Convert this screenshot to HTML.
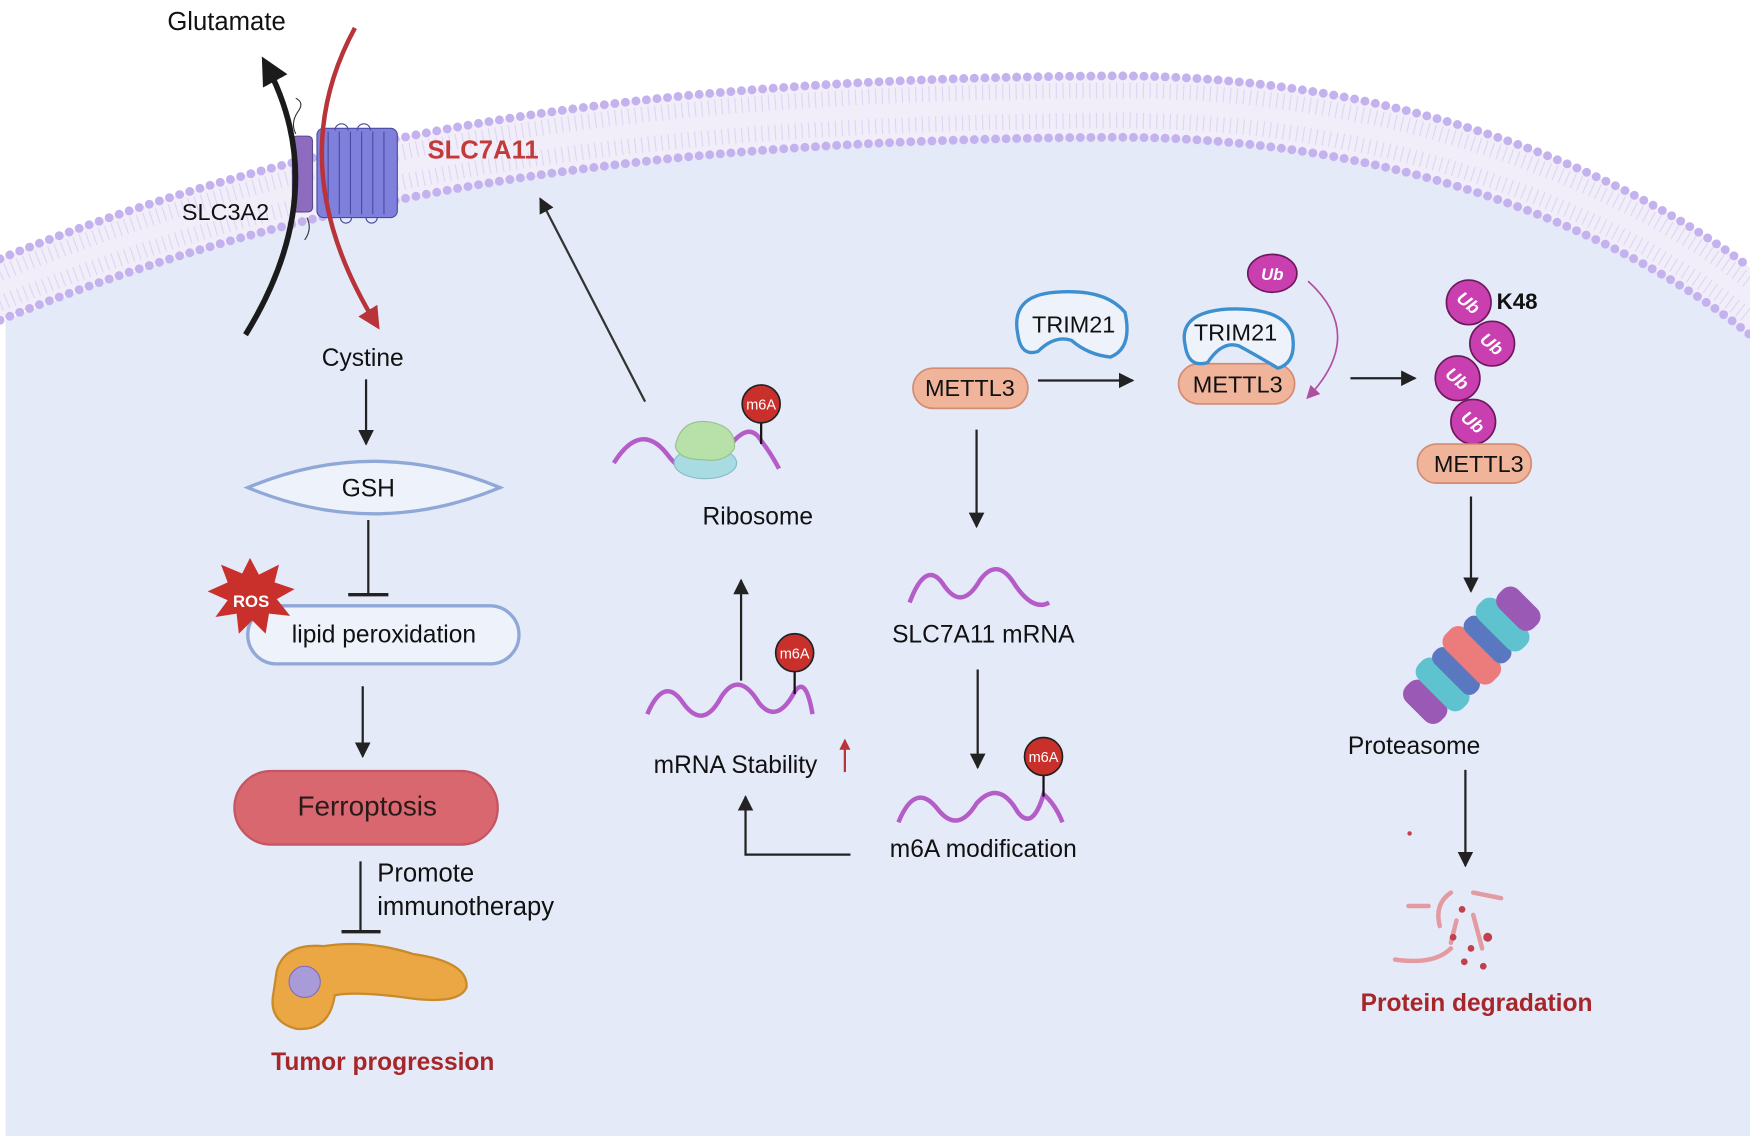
<!DOCTYPE html>
<html><head><meta charset="utf-8"><style>
html,body{margin:0;padding:0;background:#fff;}
svg{display:block;}
text{font-family:"Liberation Sans",sans-serif;}
</style></head><body>
<svg width="1750" height="1147" viewBox="0 0 1568 1028" preserveAspectRatio="none" xmlns="http://www.w3.org/2000/svg">
<defs>
<marker id="ah" viewBox="0 0 10 10" refX="9" refY="5" markerWidth="7" markerHeight="7" orient="auto"><path d="M0,0L10,5L0,10z" fill="#222"/></marker>
<marker id="ahb" viewBox="0 0 10 10" refX="8" refY="5" markerWidth="5" markerHeight="5" orient="auto"><path d="M0,0L10,5L0,10z" fill="#1b1b1b"/></marker>
<marker id="ahr" viewBox="0 0 10 10" refX="8" refY="5" markerWidth="5" markerHeight="5" orient="auto"><path d="M0,0L10,5L0,10z" fill="#b8333a"/></marker>
<marker id="ahm" viewBox="0 0 10 10" refX="8" refY="5" markerWidth="8" markerHeight="8" orient="auto"><path d="M0,0L10,5L0,10z" fill="#b04fa0"/></marker>
</defs>
<rect width="1568" height="1028" fill="#fff"/>
<path d="M5,287 C300,165 600,125 1000,123 C1250,123 1450,205 1568,300 L1568,1018 L5,1018 Z" fill="#e4eaf8"/>
<path d="M0,232 C300,110 600,70 1000,68 C1250,68 1450,150 1568,240 L1568,300 C1450,205 1250,123 1000,123 C600,125 300,165 0,287 Z" fill="#f1eefa"/>
<path d="M0,245 C300,123 600,83 1000,81 C1250,81 1450,163 1568,253" fill="none" stroke="#ddd6f2" stroke-width="14" stroke-dasharray="1 5"/>
<path d="M0,272 C300,150 600,110 1000,108 C1250,108 1450,190 1568,285" fill="none" stroke="#ddd6f2" stroke-width="14" stroke-dasharray="1 5"/>
<path d="M0,232 C300,110 600,70 1000,68 C1250,68 1450,150 1568,240" fill="none" stroke="#c4b2ee" stroke-width="8" stroke-linecap="round" stroke-dasharray="0 9.5"/>
<path d="M0,287 C300,165 600,125 1000,123 C1250,123 1450,205 1568,300" fill="none" stroke="#c4b2ee" stroke-width="8" stroke-linecap="round" stroke-dasharray="0 9.5"/>

<rect x="262" y="122" width="18" height="68" rx="4" fill="#8d6cbf" stroke="#5a4a8a" stroke-width="1"/>
<rect x="284" y="115" width="72" height="80" rx="6" fill="#7f7fdc" stroke="#4a4aa0" stroke-width="1"/>
<g stroke="#4a4aa0" stroke-width="1" fill="none">
<line x1="294" y1="118" x2="294" y2="192"/><line x1="304" y1="118" x2="304" y2="192"/><line x1="314" y1="118" x2="314" y2="192"/><line x1="324" y1="118" x2="324" y2="192"/><line x1="334" y1="118" x2="334" y2="192"/><line x1="344" y1="118" x2="344" y2="192"/>
<path d="M300,117 a6,6 0 0 1 12,0 M320,117 a6,6 0 0 1 12,0 M305,195 a5,5 0 0 0 10,0 M328,195 a5,5 0 0 0 10,0"/>
<path d="M265,120 q-5,-10 2,-20 q6,-8 -2,-12" stroke="#333"/>
<path d="M275,195 q5,10 -2,20" stroke="#333"/>
</g>
<path d="M220,300 Q300,170 237,55" fill="none" stroke="#1b1b1b" stroke-width="5" marker-end="url(#ahb)"/>
<path d="M318,25 Q250,150 338,292" fill="none" stroke="#b8333a" stroke-width="4" marker-end="url(#ahr)"/>
<text x="203" y="27" font-size="23" text-anchor="middle" fill="#111">Glutamate</text>
<text x="383" y="142" font-size="23" font-weight="bold" fill="#c33a3a">SLC7A11</text>
<text x="163" y="197" font-size="21" fill="#111">SLC3A2</text>

<text x="325" y="328" font-size="22" text-anchor="middle" fill="#111">Cystine</text>
<line x1="328" y1="340" x2="328" y2="398" stroke="#222" stroke-width="2" marker-end="url(#ah)"/>
<path d="M222,437 Q335,390 448,437 Q335,484 222,437 Z" fill="#eef3fb" stroke="#8fa8d8" stroke-width="3"/>
<text x="330" y="445" font-size="22" text-anchor="middle" fill="#111">GSH</text>
<line x1="330" y1="466" x2="330" y2="533" stroke="#222" stroke-width="2"/>
<line x1="312" y1="533" x2="348" y2="533" stroke="#222" stroke-width="3"/>
<rect x="222" y="543" width="243" height="52" rx="26" fill="#eef3fb" stroke="#8fa8d8" stroke-width="3"/>
<text x="344" y="576" font-size="22" text-anchor="middle" fill="#111">lipid peroxidation</text>
<polygon points="224,500 232,515 250,506 246,522 264,528 248,537 260,552 241,550 238,568 226,556 214,568 212,550 193,553 204,538 186,530 204,522 198,506 217,514" fill="#c9302c"/>
<text x="225" y="544" font-size="15" font-weight="bold" text-anchor="middle" fill="#fff">ROS</text>
<line x1="325" y1="615" x2="325" y2="678" stroke="#222" stroke-width="2" marker-end="url(#ah)"/>
<rect x="210" y="691" width="236" height="66" rx="33" fill="#d9676f" stroke="#c55560" stroke-width="2"/>
<text x="329" y="731" font-size="25" text-anchor="middle" fill="#2a1a1a">Ferroptosis</text>
<line x1="323" y1="772" x2="323" y2="835" stroke="#222" stroke-width="2"/>
<line x1="306" y1="835" x2="341" y2="835" stroke="#222" stroke-width="3"/>
<text x="338" y="790" font-size="23" fill="#111">Promote</text>
<text x="338" y="820" font-size="23" fill="#111">immunotherapy</text>
<path d="M248,870 Q255,845 290,848 Q330,842 370,855 Q420,862 418,885 Q412,900 370,895 Q320,888 300,892 Q295,925 265,922 Q240,915 245,890 Z" fill="#eaa743" stroke="#c88a2a" stroke-width="2"/>
<circle cx="273" cy="880" r="14" fill="#a99ad8" stroke="#7d6dbd"/>
<text x="343" y="959" font-size="22" font-weight="bold" text-anchor="middle" fill="#a7262a">Tumor progression</text>

<line x1="578" y1="360" x2="484" y2="178" stroke="#333" stroke-width="2" marker-end="url(#ah)"/>
<path d="M550,415 Q575,375 600,410 Q625,440 650,405 Q670,375 682,395 Q690,405 698,420" fill="none" stroke="#b45cc8" stroke-width="4"/>
<ellipse cx="632" cy="415" rx="28" ry="14" fill="#a9dbe3" stroke="#86bccb"/>
<path d="M605,400 Q610,375 635,378 Q660,382 658,402 Q650,415 630,412 Q608,412 605,400Z" fill="#b8e0a9" stroke="#95c388"/>
<line x1="682" y1="378" x2="682" y2="398" stroke="#111" stroke-width="2"/>
<circle cx="682" cy="362" r="17" fill="#c9302c" stroke="#222" stroke-width="1.5"/>
<text x="682" y="367" font-size="13" text-anchor="middle" fill="#fff">m6A</text>
<text x="679" y="470" font-size="22" text-anchor="middle" fill="#111">Ribosome</text>
<line x1="664" y1="610" x2="664" y2="520" stroke="#222" stroke-width="2" marker-end="url(#ah)"/>
<path d="M580,640 Q595,605 612,630 Q630,655 646,625 Q662,600 680,630 Q696,650 712,620 Q722,605 728,640" fill="none" stroke="#b45cc8" stroke-width="4"/>
<line x1="712" y1="600" x2="712" y2="622" stroke="#111" stroke-width="2"/>
<circle cx="712" cy="585" r="17" fill="#c9302c" stroke="#222" stroke-width="1.5"/>
<text x="712" y="590" font-size="13" text-anchor="middle" fill="#fff">m6A</text>
<text x="659" y="693" font-size="22" text-anchor="middle" fill="#111">mRNA Stability</text>
<line x1="757" y1="692" x2="757" y2="664" stroke="#b8333a" stroke-width="2" marker-end="url(#ahr)"/>
<path d="M762,766 L668,766 L668,714" fill="none" stroke="#222" stroke-width="2" marker-end="url(#ah)"/>

<rect x="818" y="330" width="103" height="36" rx="18" fill="#f0b49a" stroke="#d28c72" stroke-width="1.5"/>
<text x="869" y="355" font-size="21" text-anchor="middle" fill="#111">METTL3</text>
<path d="M912,300 Q905,265 945,262 Q990,258 1008,280 Q1015,312 995,320 Q975,318 960,305 Q945,300 930,315 Q915,320 912,300Z" fill="#eef3fb" stroke="#3d8fd0" stroke-width="3"/>
<text x="962" y="298" font-size="21" text-anchor="middle" fill="#111">TRIM21</text>
<line x1="930" y1="341" x2="1015" y2="341" stroke="#222" stroke-width="2" marker-end="url(#ah)"/>
<rect x="1056" y="326" width="104" height="36" rx="18" fill="#f0b49a" stroke="#d28c72" stroke-width="1.5"/>
<path d="M1062,310 Q1055,280 1100,277 Q1150,275 1158,300 Q1162,325 1145,330 Q1125,318 1110,310 Q1095,305 1082,325 Q1065,330 1062,310Z" fill="#eef3fb" stroke="#3d8fd0" stroke-width="3"/>
<text x="1107" y="305" font-size="21" text-anchor="middle" fill="#111">TRIM21</text>
<text x="1109" y="352" font-size="21" text-anchor="middle" fill="#111">METTL3</text>
<ellipse cx="1140" cy="245" rx="22" ry="17" fill="#c93fb0" stroke="#6d1a5d" stroke-width="1.5"/>
<text x="1140" y="251" font-size="15" font-style="italic" font-weight="bold" text-anchor="middle" fill="#fff">Ub</text>
<path d="M1172,252 Q1225,300 1172,356" fill="none" stroke="#b04fa0" stroke-width="1.5" marker-end="url(#ahm)"/>
<line x1="1210" y1="339" x2="1268" y2="339" stroke="#222" stroke-width="2" marker-end="url(#ah)"/>
<g fill="#c93fb0" stroke="#6d1a5d" stroke-width="1.5">
<circle cx="1320" cy="378" r="20"/><circle cx="1306" cy="339" r="20"/><circle cx="1337" cy="308" r="20"/><circle cx="1316" cy="271" r="20"/>
</g>
<g font-size="16" font-style="italic" font-weight="bold" fill="#fff" text-anchor="middle">
<text x="1316" y="277" transform="rotate(40 1316 271)">Ub</text>
<text x="1337" y="314" transform="rotate(40 1337 308)">Ub</text>
<text x="1306" y="345" transform="rotate(40 1306 339)">Ub</text>
<text x="1320" y="384" transform="rotate(40 1320 378)">Ub</text>
</g>
<text x="1341" y="277" font-size="20" font-weight="bold" fill="#111">K48</text>
<rect x="1270" y="398" width="102" height="35" rx="17" fill="#f0b49a" stroke="#d28c72" stroke-width="1.5"/>
<text x="1325" y="423" font-size="21" text-anchor="middle" fill="#111">METTL3</text>
<line x1="1318" y1="445" x2="1318" y2="530" stroke="#222" stroke-width="2" marker-end="url(#ah)"/>

<g transform="rotate(-45 1318 588)">
<rect x="1248" y="566" width="24" height="44" rx="10" fill="#9b59b6"/>
<rect x="1270" y="560" width="24" height="56" rx="10" fill="#5fc3cf"/>
<rect x="1290" y="562" width="18" height="52" rx="8" fill="#5a78c0"/>
<rect x="1306" y="558" width="26" height="60" rx="10" fill="#ec7c7c"/>
<rect x="1330" y="562" width="18" height="52" rx="8" fill="#5a78c0"/>
<rect x="1346" y="560" width="24" height="56" rx="10" fill="#5fc3cf"/>
<rect x="1366" y="566" width="24" height="44" rx="10" fill="#9b59b6"/>
</g>
<text x="1267" y="676" font-size="22" text-anchor="middle" fill="#111">Proteasome</text>
<line x1="1313" y1="690" x2="1313" y2="776" stroke="#222" stroke-width="2" marker-end="url(#ah)"/>
<g stroke="#e39aa0" stroke-width="4" fill="none" stroke-linecap="round">
<path d="M1262,812 L1280,812"/><path d="M1300,800 Q1285,810 1290,830"/><path d="M1320,800 L1345,805"/><path d="M1300,850 Q1285,865 1250,860"/><path d="M1320,820 L1328,850"/><path d="M1305,825 L1300,845"/>
</g>
<g fill="#c1404c">
<circle cx="1310" cy="815" r="3"/><circle cx="1302" cy="840" r="3"/><circle cx="1318" cy="850" r="3"/><circle cx="1333" cy="840" r="4"/><circle cx="1312" cy="862" r="3"/><circle cx="1329" cy="866" r="3"/><circle cx="1263" cy="747" r="2"/>
</g>
<text x="1323" y="906" font-size="22" font-weight="bold" text-anchor="middle" fill="#a7262a">Protein degradation</text>

<line x1="875" y1="385" x2="875" y2="472" stroke="#222" stroke-width="2" marker-end="url(#ah)"/>
<path d="M815,540 Q830,500 846,525 Q862,548 878,520 Q894,498 910,525 Q926,548 940,540" fill="none" stroke="#b45cc8" stroke-width="4"/>
<text x="881" y="576" font-size="22" text-anchor="middle" fill="#111">SLC7A11 mRNA</text>
<line x1="876" y1="600" x2="876" y2="688" stroke="#222" stroke-width="2" marker-end="url(#ah)"/>
<path d="M805,737 Q820,700 840,725 Q858,748 875,720 Q895,698 912,728 Q925,745 935,712 Q945,720 952,737" fill="none" stroke="#b45cc8" stroke-width="4"/>
<line x1="935" y1="694" x2="935" y2="714" stroke="#111" stroke-width="2"/>
<circle cx="935" cy="678" r="17" fill="#c9302c" stroke="#222" stroke-width="1.5"/>
<text x="935" y="683" font-size="13" text-anchor="middle" fill="#fff">m6A</text>
<text x="881" y="768" font-size="22" text-anchor="middle" fill="#111">m6A modification</text>
</svg>
</body></html>
